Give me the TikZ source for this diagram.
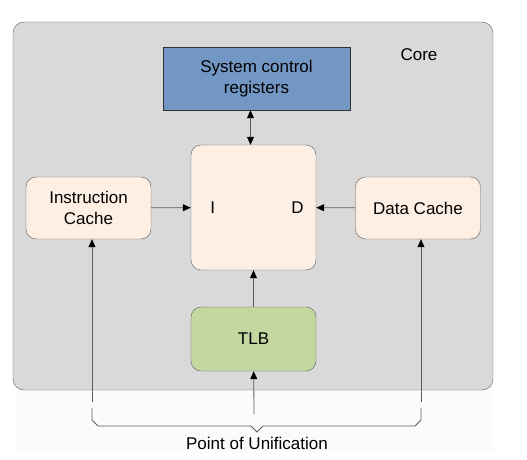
\documentclass[tikz,border=0pt]{standalone}
\usepackage{fontspec}
\setmainfont{Liberation Sans}
\usetikzlibrary{arrows.meta, positioning}
\definecolor{coregray}{HTML}{D9D9D9}
\definecolor{regblue}{HTML}{7397C4}
\definecolor{cachecream}{HTML}{FDEFE4}
\definecolor{tlbgreen}{HTML}{C4D7A0}
\definecolor{linegray}{HTML}{5E5E5E}

\begin{document}
\begin{tikzpicture}[x=1pt, y=-1pt, font=\fontsize{17}{21}\selectfont]
    \tikzstyle{corebox} = [rectangle, rounded corners=11pt, draw=linegray, fill=coregray, minimum width=480pt, minimum height=368pt]
    \tikzstyle{regs} = [rectangle, draw=black!80, fill=regblue, minimum width=187pt, minimum height=63pt, align=center, inner sep=0pt]
    \tikzstyle{cache} = [rectangle, rounded corners=10pt, draw=linegray, fill=cachecream, minimum width=125pt, minimum height=62pt, align=center, inner sep=0pt]
    \tikzstyle{tlbbox} = [cache, fill=tlbgreen, minimum height=64pt]
    \tikzstyle{arrow} = [-{Triangle[length=8pt,width=7pt,color=black]}, draw=linegray, line width=0.8pt]
    \tikzstyle{dblarrow} = [{Triangle[length=8pt,width=7pt,color=black]}-{Triangle[length=8pt,width=7pt,color=black]}, draw=linegray, line width=0.8pt]
    \useasboundingbox (0,0) rectangle (527,460);
    \fill[black!1.5] (17,385) rectangle (493,452);
    \node (core) [corebox] at (253,206) {};
    \node (corelabel) at (419,55) {Core};
    \node (regs) [regs] at (256.5,78.5) {System control\\registers};
    \node (cpu) [cache, minimum height=125pt] at (253.5,207.5) {};
    \node (ilabel) [right=16pt of cpu.west] {I};
    \node (dlabel) [left=9pt of cpu.east] {D};
    \node (icache) [cache] at (88.5,208) {Instruction\\Cache};
    \node (dcache) [cache] at (418,208) {Data Cache};
    \node (tlb) [tlbbox] at (253.5,339) {TLB};
    \coordinate (rlow) at ([xshift=-6pt]regs.south);
    \coordinate (ilow) at (92,402);
    \coordinate (dlow) at (421,402);
    \coordinate (tlow) at (254,414);
    \node (pou) at (257,443) {Point of Unification};
    \draw [dblarrow] (rlow) -- (rlow |- cpu.north);
    \draw [arrow] (icache) -- (cpu);
    \draw [arrow] (dcache) -- (cpu);
    \draw [arrow] (tlb) -- (cpu);
    \draw [arrow] (tlow) -- (tlb);
    \draw [arrow] (ilow) -- (ilow |- icache.south);
    \draw [arrow] (dlow) -- (dlow |- dcache.south);
    % bracket to the point of unification
    \draw [draw=linegray, line width=0.8pt] (92,408) -- (92,420) -- (98,426) -- (251,426) -- (257,432) -- (263,426) -- (415,426) -- (421,420) -- (421,408);
\end{tikzpicture}
\end{document}
